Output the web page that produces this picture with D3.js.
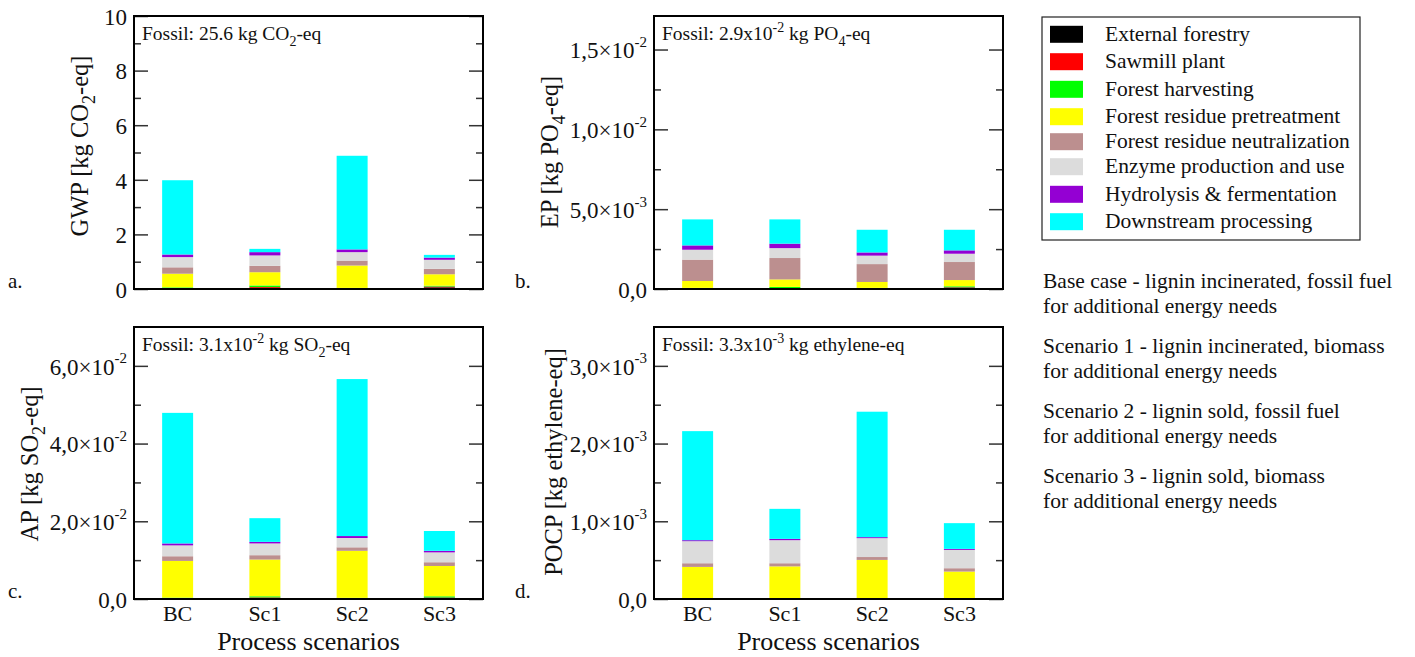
<!DOCTYPE html>
<html>
<head>
<meta charset="utf-8">
<script src="https://cdn.jsdelivr.net/npm/d3@7"></script>
<style>
  body { margin: 0; background: #fff; }
  svg { font-family: "Liberation Serif", "Times New Roman", serif; }
</style>
</head>
<body>
<script>
var scenarios = ["BC", "Sc1", "Sc2", "Sc3"];
var processes = ["External forestry", "Sawmill plant", "Forest harvesting",
  "Forest residue pretreatment", "Forest residue neutralization",
  "Enzyme production and use", "Hydrolysis & fermentation", "Downstream processing"];
var colors = ["#000000", "#ff0000", "#00ff00", "#ffff00", "#bc8f8f", "#dcdcdc", "#9400d3", "#00ffff"];

// one row per process, columns = BC, Sc1, Sc2, Sc3
var gwp = [
  [0.02, 0.02, 0.01, 0.06],
  [0.01, 0.05, 0.01, 0.03],
  [0.03, 0.06, 0.02, 0.03],
  [0.50, 0.485, 0.82, 0.42],
  [0.234, 0.235, 0.18, 0.20],
  [0.375, 0.38, 0.31, 0.33],
  [0.095, 0.12, 0.10, 0.08],
  [2.72, 0.12, 3.43, 0.10]
];
// x 1e-3
var ep = [
  [0.03, 0.03, 0.03, 0.09],
  [0.02, 0.02, 0.02, 0.02],
  [0.02, 0.08, 0.02, 0.06],
  [0.43, 0.47, 0.37, 0.39],
  [1.34, 1.34, 1.12, 1.13],
  [0.62, 0.62, 0.53, 0.52],
  [0.27, 0.28, 0.20, 0.21],
  [1.63, 1.52, 1.42, 1.29]
];
// x 1e-3
var ap = [
  [0.1, 0.1, 0.1, 0.35],
  [0.05, 0.3, 0.05, 0.05],
  [0.2, 0.3, 0.15, 0.3],
  [9.45, 9.45, 12.1, 7.8],
  [1.2, 1.12, 0.9, 0.96],
  [2.8, 3.03, 2.4, 2.54],
  [0.5, 0.4, 0.5, 0.4],
  [33.6, 6.1, 40.4, 5.1]
];
// x 1e-3
var pocp = [
  [0.002, 0.002, 0.002, 0.004],
  [0.001, 0.002, 0.001, 0.001],
  [0.005, 0.008, 0.005, 0.008],
  [0.405, 0.408, 0.495, 0.34],
  [0.047, 0.04, 0.037, 0.043],
  [0.284, 0.297, 0.243, 0.236],
  [0.013, 0.017, 0.013, 0.013],
  [1.403, 0.386, 1.614, 0.331]
];

var scenarioText = [
  ["Base case - lignin incinerated, fossil fuel", "for additional energy needs"],
  ["Scenario 1 - lignin incinerated, biomass", "for additional energy needs"],
  ["Scenario 2 - lignin sold, fossil fuel", "for additional energy needs"],
  ["Scenario 3 - lignin sold, biomass", "for additional energy needs"]
];

var svg = d3.select("body").append("svg")
  .attr("width", 1415)
  .attr("height", 657);

// panel definitions (positions in px)
var panels = [
  { data: gwp, scale: 1, max: 10, major: [0, 2, 4, 6, 8, 10], minor: [1, 3, 5, 7, 9], sci: false,
    x0: 134, x1: 483, y0: 16, y1: 289, letter: "a.", lx: 8,
    title: ["GWP [kg CO", "2", "-eq]"], tx: 79, cy: 146,
    fossil: [["Fossil: 25.6 kg CO", ""], ["2", "sub"], ["-eq", ""]], xlabels: false },
  { data: ep, scale: 1e-3, max: 0.0171, major: [0, 0.005, 0.01, 0.015], minor: [0.0025, 0.0075, 0.0125], sci: true,
    x0: 654, x1: 1003, y0: 16, y1: 289, letter: "b.", lx: 515,
    title: ["EP [kg PO", "4", "-eq]"], tx: 549, cy: 152,
    fossil: [["Fossil: 2.9x10", ""], ["-2", "sup"], [" kg PO", ""], ["4", "sub"], ["-eq", ""]], xlabels: false },
  { data: ap, scale: 1e-3, max: 0.07, major: [0, 0.02, 0.04, 0.06], minor: [0.01, 0.03, 0.05], sci: true,
    x0: 134, x1: 483, y0: 327, y1: 599, letter: "c.", lx: 8,
    title: ["AP [kg SO", "2", "-eq]"], tx: 29, cy: 464,
    fossil: [["Fossil: 3.1x10", ""], ["-2", "sup"], [" kg SO", ""], ["2", "sub"], ["-eq", ""]], xlabels: true },
  { data: pocp, scale: 1e-3, max: 0.0035, major: [0, 0.001, 0.002, 0.003], minor: [0.0005, 0.0015, 0.0025], sci: true,
    x0: 654, x1: 1003, y0: 327, y1: 599, letter: "d.", lx: 515,
    title: ["POCP [kg ethylene-eq]"], tx: 553, cy: 462,
    fossil: [["Fossil: 3.3x10", ""], ["-3", "sup"], [" kg ethylene-eq", ""]], xlabels: true }
];

function sciParts(v) {
  if (v === 0) return ["0,0", null];
  var e = Math.floor(Math.log10(v) + 1e-9);
  var m = v / Math.pow(10, e);
  return [m.toFixed(1).replace(".", ",") + "\u00d710", String(e)];
}

panels.forEach(function(p) {
  var g = svg.append("g");

  var x = d3.scaleBand().domain(scenarios).range([p.x0, p.x1])
    .paddingInner(0.645).paddingOuter(0.3225);
  var y = d3.scaleLinear().domain([0, p.max]).range([p.y1, p.y0]);

  // build table for stack
  var rows = scenarios.map(function(s, j) {
    var r = { scenario: s };
    processes.forEach(function(name, i) { r[name] = p.data[i][j] * p.scale; });
    return r;
  });
  var series = d3.stack().keys(processes)(rows);

  g.selectAll("g.layer").data(series).enter().append("g")
    .attr("fill", function(d, i) { return colors[i]; })
    .selectAll("rect").data(function(d) { return d; }).enter().append("rect")
    .attr("x", function(d) { return x(d.data.scenario); })
    .attr("width", x.bandwidth())
    .attr("y", function(d) { return y(d[1]); })
    .attr("height", function(d) { return y(d[0]) - y(d[1]); });

  // ticks, inward on both sides
  var left = g.append("g").attr("transform", "translate(" + p.x0 + ",0)")
    .call(d3.axisLeft(y).tickValues(p.major).tickSizeInner(-14).tickSizeOuter(0).tickPadding(7)
      .tickFormat(function(d) { return d; }));
  g.append("g").attr("transform", "translate(" + p.x0 + ",0)")
    .call(d3.axisLeft(y).tickValues(p.minor).tickSizeInner(-7).tickSizeOuter(0).tickFormat(""));
  g.append("g").attr("transform", "translate(" + p.x1 + ",0)")
    .call(d3.axisRight(y).tickValues(p.major).tickSizeInner(-14).tickSizeOuter(0).tickFormat(""));
  g.append("g").attr("transform", "translate(" + p.x1 + ",0)")
    .call(d3.axisRight(y).tickValues(p.minor).tickSizeInner(-7).tickSizeOuter(0).tickFormat(""));
  g.selectAll(".domain").remove();
  g.selectAll(".tick line").attr("stroke", "#333").attr("stroke-width", 1.5);

  left.selectAll(".tick text").each(function(d) {
    var t = d3.select(this).text("")
      .attr("font-family", "Liberation Serif, serif")
      .attr("font-size", 23).attr("fill", "#111").attr("dy", "0.36em");
    if (!p.sci) { t.text(d); return; }
    var parts = sciParts(d);
    t.append("tspan").text(parts[0]);
    if (parts[1]) {
      t.append("tspan").attr("font-size", 15).attr("dy", "-0.75em").text(parts[1]);
    }
  });

  // frame
  g.append("rect")
    .attr("x", p.x0).attr("y", p.y0)
    .attr("width", p.x1 - p.x0).attr("height", p.y1 - p.y0)
    .attr("fill", "none").attr("stroke", "#000").attr("stroke-width", 2);

  // fossil note
  var f = g.append("text").attr("x", p.x0 + 8).attr("y", p.y0 + 24)
    .attr("font-size", 19.5).attr("fill", "#111");
  p.fossil.forEach(function(part, k) {
    var ts = f.append("tspan").text(part[0]);
    var prev = k > 0 ? p.fossil[k - 1][1] : "";
    if (part[1] === "sub") ts.attr("font-size", 14).attr("dy", 6);
    else if (part[1] === "sup") ts.attr("font-size", 14).attr("dy", -8);
    else if (prev === "sub") ts.attr("dy", -6);
    else if (prev === "sup") ts.attr("dy", 8);
  });

  // y title
  var tt = g.append("text")
    .attr("transform", "translate(" + p.tx + "," + p.cy + ") rotate(-90)")
    .attr("text-anchor", "middle").attr("font-size", 24.5).attr("fill", "#111")
    .attr("dy", "0.35em");
  tt.append("tspan").text(p.title[0]);
  if (p.title.length > 1) {
    tt.append("tspan").attr("font-size", 18).attr("dy", 7).text(p.title[1]);
    tt.append("tspan").attr("dy", -7).text(p.title[2]);
  }

  // panel letter
  g.append("text").attr("x", p.lx).attr("y", p.y1 - 1)
    .attr("font-size", 21).attr("fill", "#111").text(p.letter);

  if (p.xlabels) {
    g.selectAll("text.xl").data(scenarios).enter().append("text")
      .attr("x", function(d) { return x(d) + x.bandwidth() / 2; })
      .attr("y", p.y1 + 21.5)
      .attr("text-anchor", "middle").attr("font-size", 22).attr("fill", "#111")
      .text(function(d) { return d; });
    g.append("text").attr("x", (p.x0 + p.x1) / 2).attr("y", p.y1 + 51)
      .attr("text-anchor", "middle").attr("font-size", 26).attr("fill", "#111")
      .text("Process scenarios");
  }
});

// legend
var legendRows = [34.3, 61.7, 89.3, 116.7, 141.7, 166.7, 194.3, 221.7];
var lg = svg.append("g");
lg.append("rect").attr("x", 1042).attr("y", 17).attr("width", 318).attr("height", 223)
  .attr("fill", "#fff").attr("stroke", "#222").attr("stroke-width", 1.2);
processes.forEach(function(name, i) {
  lg.append("rect").attr("x", 1050).attr("y", legendRows[i] - 8.5)
    .attr("width", 33).attr("height", 17).attr("fill", colors[i]);
  lg.append("text").attr("x", 1105).attr("y", legendRows[i] + 6.5)
    .attr("font-size", 21.5).attr("fill", "#111").text(name);
});

// scenario descriptions
var descY = [288, 353, 418, 483];
scenarioText.forEach(function(lines, i) {
  lines.forEach(function(line, k) {
    svg.append("text").attr("x", 1043).attr("y", descY[i] + k * 25)
      .attr("font-size", 21.5).attr("fill", "#111").text(line);
  });
});
</script>
</body>
</html>
